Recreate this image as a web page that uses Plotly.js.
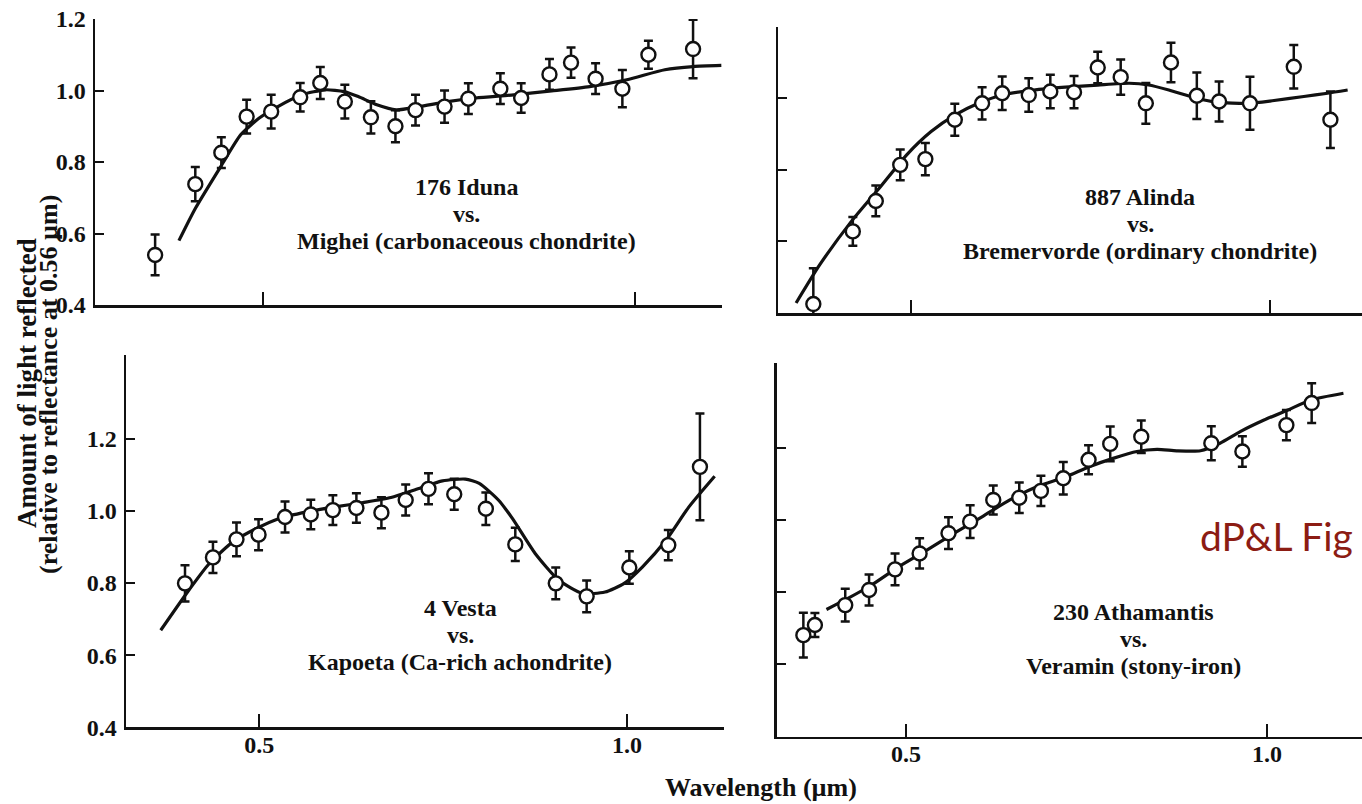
<!DOCTYPE html>
<html>
<head>
<meta charset="utf-8">
<script src="https://cdn.plot.ly/plotly-3.0.1.min.js"></script>
<style>
html,body{margin:0;padding:0;background:#fff;}
#chart{width:1362px;height:804px;}
</style>
</head>
<body>
<div id="chart"></div>
<script>
// ---------- DATA ----------
// Panel 1: 176 Iduna vs. Mighei
const wl1 = [0.355,0.409,0.444,0.478,0.511,0.550,0.577,0.610,0.645,0.678,0.705,0.744,0.776,0.819,0.847,0.885,0.914,0.947,0.983,1.018,1.078];
const refl1 = [0.54,0.738,0.826,0.927,0.941,0.981,1.021,0.969,0.925,0.90,0.945,0.955,0.977,1.005,0.979,1.045,1.078,1.033,1.005,1.10,1.116];
const err1 = [0.057,0.048,0.043,0.047,0.047,0.040,0.045,0.047,0.045,0.045,0.043,0.045,0.043,0.043,0.041,0.043,0.042,0.043,0.052,0.039,0.082];
const curveX1 = [0.387,0.409,0.444,0.470,0.495,0.520,0.552,0.584,0.609,0.628,0.653,0.679,0.710,0.748,0.786,0.837,0.888,0.939,0.989,1.040,1.078,1.116];
const curveY1 = [0.58,0.67,0.79,0.876,0.923,0.955,0.988,1.002,0.997,0.983,0.960,0.946,0.955,0.969,0.979,0.988,0.999,1.011,1.030,1.058,1.067,1.070];

// Panel 2: 887 Alinda vs. Bremervorde
const wl2 = [0.364,0.419,0.451,0.485,0.520,0.561,0.599,0.627,0.664,0.694,0.727,0.760,0.792,0.827,0.862,0.898,0.929,0.972,1.033,1.084];
const refl2 = [0.425,0.628,0.713,0.814,0.830,0.940,0.986,1.014,1.009,1.019,1.017,1.086,1.059,0.986,1.100,1.007,0.991,0.986,1.088,0.940];
const err2 = [0.100,0.040,0.043,0.043,0.045,0.045,0.045,0.047,0.047,0.047,0.045,0.044,0.049,0.057,0.055,0.065,0.056,0.074,0.061,0.079];
const curveX2 = [0.340,0.373,0.417,0.456,0.494,0.528,0.561,0.594,0.627,0.671,0.715,0.760,0.804,0.831,0.859,0.898,0.925,0.970,1.003,1.047,1.080,1.108];
const curveY2 = [0.428,0.535,0.656,0.749,0.842,0.907,0.953,0.986,1.009,1.023,1.031,1.037,1.042,1.037,1.023,1.000,0.989,0.986,0.993,1.005,1.014,1.023];

// Panel 3: 4 Vesta vs. Kapoeta
const wl3 = [0.399,0.437,0.469,0.499,0.535,0.570,0.600,0.632,0.666,0.699,0.730,0.765,0.808,0.848,0.903,0.945,1.003,1.056,1.099];
const refl3 = [0.799,0.871,0.921,0.934,0.983,0.990,1.002,1.008,0.995,1.030,1.061,1.046,1.006,0.907,0.799,0.763,0.843,0.905,1.122];
const err3 = [0.050,0.043,0.047,0.043,0.043,0.041,0.041,0.041,0.043,0.043,0.043,0.043,0.045,0.046,0.044,0.044,0.045,0.042,0.148];
const curveX3 = [0.366,0.401,0.432,0.464,0.496,0.527,0.565,0.603,0.641,0.679,0.717,0.749,0.780,0.799,0.825,0.844,0.875,0.907,0.939,0.970,0.996,1.021,1.053,1.084,1.119];
const curveY3 = [0.669,0.771,0.854,0.914,0.951,0.979,0.997,1.011,1.023,1.037,1.062,1.083,1.088,1.076,1.030,0.979,0.882,0.808,0.771,0.775,0.799,0.845,0.919,1.011,1.096];

// Panel 4: 230 Athamantis vs. Veramin
const wl4 = [0.358,0.374,0.416,0.449,0.485,0.519,0.559,0.589,0.621,0.657,0.687,0.718,0.753,0.783,0.826,0.923,0.966,1.027,1.062];
const refl4 = [0.681,0.709,0.764,0.806,0.863,0.907,0.963,0.995,1.055,1.061,1.080,1.115,1.166,1.210,1.230,1.212,1.189,1.262,1.323];
const err4 = [0.062,0.033,0.045,0.043,0.044,0.042,0.044,0.045,0.040,0.042,0.042,0.045,0.040,0.048,0.045,0.047,0.042,0.042,0.055];
const curveX4 = [0.390,0.419,0.452,0.490,0.529,0.567,0.606,0.644,0.682,0.721,0.754,0.787,0.820,0.848,0.875,0.908,0.935,0.963,0.996,1.029,1.062,1.106];
const curveY4 = [0.752,0.782,0.819,0.870,0.916,0.963,1.009,1.055,1.092,1.119,1.147,1.170,1.189,1.195,1.191,1.191,1.212,1.244,1.276,1.304,1.332,1.350];

const xTickVals = [0.5, 1.0];
const xTickText = ['0.5', '1.0'];
const yTickVals = [0.4, 0.6, 0.8, 1.0, 1.2];
const yTickText = ['0.4', '0.6', '0.8', '1.0', '1.2'];

const panelText = [
  ['176 Iduna', 'vs.', 'Mighei (carbonaceous chondrite)'],
  ['887 Alinda', 'vs.', 'Bremervorde (ordinary chondrite)'],
  ['4 Vesta', 'vs.', 'Kapoeta (Ca-rich achondrite)'],
  ['230 Athamantis', 'vs.', 'Veramin (stony-iron)']
];
const yTitleLines = ['Amount of light reflected', '(relative to reflectance at 0.56 \u00b5m)'];
const xTitle = 'Wavelength (\u00b5m)';
const figLabel = 'dP&L Fig';

// ---------- LAYOUT HELPERS ----------
const W = 1362, H = 804;
const fx = px => px / W;
const fy = py => 1 - py / H;
const SERIF = '"Liberation Serif", "Times New Roman", serif';

const curves = [[curveX1, curveY1], [curveX2, curveY2], [curveX3, curveY3], [curveX4, curveY4]];
const pts = [[wl1, refl1, err1], [wl2, refl2, err2], [wl3, refl3, err3], [wl4, refl4, err4]];
const axSuffix = ['', '2', '3', '4'];

const traces = [];
for (let i = 0; i < 4; i++) {
  const xa = 'x' + axSuffix[i], ya = 'y' + axSuffix[i];
  traces.push({
    type: 'scatter', mode: 'lines', x: curves[i][0], y: curves[i][1],
    xaxis: xa, yaxis: ya, line: {color: '#111', width: 3.2, shape: 'spline', smoothing: 0.6},
    hoverinfo: 'skip', showlegend: false
  });
  traces.push({
    type: 'scatter', mode: 'markers', x: pts[i][0], y: pts[i][1],
    xaxis: xa, yaxis: ya,
    error_y: {type: 'data', array: pts[i][2], visible: true, color: '#111', thickness: 2.5, width: 4.5},
    marker: {symbol: 'circle', size: 14, color: '#fff', line: {color: '#111', width: 2.4}},
    showlegend: false
  });
}

// domains in pixel coordinates
const dom = [
  {x: [95, 722], y: [19, 305], xr: [0.2742, 1.1169], yr: [0.4, 1.2], xl: false, yl: true},
  {x: [778, 1362], y: [26.7, 313], xr: [0.3148, 1.128], yr: [0.4, 1.2], xl: false, yl: false},
  {x: [126, 724], y: [355, 727.3], xr: [0.3188, 1.1317], yr: [0.4, 1.432], xl: true, yl: true},
  {x: [776.5, 1362], y: [363.3, 736.7], xr: [0.3208, 1.1317], yr: [0.4, 1.433], xl: true, yl: false}
];

const layout = {
  width: W, height: H,
  margin: {l: 0, r: 0, t: 0, b: 0},
  paper_bgcolor: '#fff', plot_bgcolor: 'rgba(0,0,0,0)',
  showlegend: false,
  annotations: []
};

for (let i = 0; i < 4; i++) {
  const d = dom[i];
  const s = axSuffix[i];
  layout['xaxis' + s] = {
    domain: [fx(d.x[0]), fx(d.x[1])], range: d.xr, anchor: 'y' + s,
    showline: true, linecolor: '#111', linewidth: 2.5, mirror: false,
    showgrid: false, zeroline: false,
    ticks: 'inside', ticklen: 13, tickwidth: 2, tickcolor: '#111',
    tickmode: 'array', tickvals: xTickVals, ticktext: xTickText,
    showticklabels: d.xl, ticklabelstandoff: -6,
    tickfont: {family: SERIF, size: 24, color: '#111', weight: 'bold'}
  };
  layout['yaxis' + s] = {
    domain: [fy(d.y[1]), fy(d.y[0])], range: d.yr, anchor: 'x' + s,
    showline: true, linecolor: '#111', linewidth: 2.5, mirror: false,
    showgrid: false, zeroline: false,
    ticks: 'inside', ticklen: 9, tickwidth: 2, tickcolor: '#111',
    tickmode: 'array', tickvals: yTickVals, ticktext: yTickText,
    showticklabels: d.yl, ticklabelstandoff: 2,
    tickfont: {family: SERIF, size: 24, color: '#111', weight: 'bold'}
  };
}

// panel labels (one annotation per line, tight spacing)
const textPos = [
  {x: 466, y: [187, 214, 241]},
  {x: 1140, y: [197, 224, 251]},
  {x: 460, y: [608, 635, 662]},
  {x: 1133, y: [612, 639, 666]}
];
for (let i = 0; i < 4; i++) {
  for (let j = 0; j < 3; j++) {
    layout.annotations.push({
      xref: 'paper', yref: 'paper', x: fx(textPos[i].x), y: fy(textPos[i].y[j]),
      xanchor: 'center', yanchor: 'middle', showarrow: false,
      text: panelText[i][j],
      font: {family: SERIF, size: 24, color: '#111', weight: 'bold'}
    });
  }
}

// axis titles
layout.annotations.push({
  xref: 'paper', yref: 'paper', x: fx(27), y: fy(383), xanchor: 'center', yanchor: 'middle',
  textangle: -90, showarrow: false, text: yTitleLines[0],
  font: {family: SERIF, size: 27, color: '#111', weight: 'bold'}
});
layout.annotations.push({
  xref: 'paper', yref: 'paper', x: fx(48), y: fy(385), xanchor: 'center', yanchor: 'middle',
  textangle: -90, showarrow: false, text: yTitleLines[1],
  font: {family: SERIF, size: 26, color: '#111', weight: 'bold'}
});
layout.annotations.push({
  xref: 'paper', yref: 'paper', x: fx(761), y: fy(787), xanchor: 'center', yanchor: 'middle',
  showarrow: false, text: xTitle,
  font: {family: SERIF, size: 26, color: '#111', weight: 'bold'}
});
layout.annotations.push({
  xref: 'paper', yref: 'paper', x: fx(1198), y: fy(536), xanchor: 'left', yanchor: 'middle',
  showarrow: false, text: figLabel,
  font: {family: 'Lato, "Open Sans", sans-serif', size: 39, color: '#8c1c13'}
});

Plotly.newPlot('chart', traces, layout, {staticPlot: true, displayModeBar: false});
</script>
</body>
</html>
